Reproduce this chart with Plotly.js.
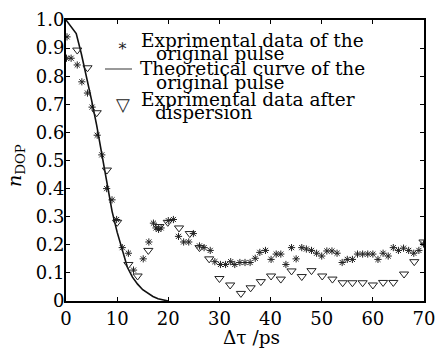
<!DOCTYPE html>
<html>
<head>
<meta charset="utf-8">
<script src="https://cdn.plot.ly/plotly-3.0.1.min.js"></script>
<style>
html,body{margin:0;padding:0;background:#fff;}
#chart{width:438px;height:349px;}
</style>
</head>
<body>
<div id="chart"></div>
<script>
// Experimental data of the original pulse (asterisks)
var origX = [0.2,0.1,1,2.2,3.1,4.2,5.1,6.1,7.0,7.95,9.0,9.9,11.0,12.2,13.2,15.1,16.2,17.1,17.6,18.1,18.6,20.0,21.0,22.0,23.0,24.0,24.9,26.1,27.0,28.2,29.1,30.2,31.2,32.2,33.0,34.0,35.0,36.0,37.0,37.9,39.0,40.1,41.1,42.0,43.0,44.1,45.0,46.1,47.0,48.0,49.0,50.0,51.0,52.0,53.0,54.0,55.0,56.0,57.0,58.0,59.0,60.0,61.0,62.0,63.0,64.0,65.0,66.0,67.0,68.0,69.0,69.9];
var origY = [0.94,0.864,0.864,0.84,0.78,0.74,0.69,0.59,0.52,0.40,0.36,0.29,0.19,0.17,0.11,0.15,0.21,0.277,0.26,0.255,0.26,0.286,0.29,0.23,0.21,0.21,0.24,0.196,0.19,0.18,0.14,0.13,0.13,0.14,0.13,0.137,0.137,0.137,0.152,0.173,0.18,0.148,0.167,0.167,0.13,0.19,0.15,0.19,0.185,0.18,0.17,0.16,0.178,0.178,0.17,0.137,0.148,0.148,0.167,0.167,0.167,0.167,0.148,0.17,0.16,0.19,0.18,0.188,0.18,0.17,0.18,0.203];

// Theoretical curve of the original pulse
var theoX = [0,1,2,3,4,5,6,7,8,9,10,11,12,13,14,15,16,17,18,19,20];
var theoY = [1.0,0.976,0.952,0.88,0.80,0.715,0.625,0.52,0.41,0.32,0.245,0.18,0.12,0.085,0.06,0.04,0.028,0.016,0.008,0.003,0.0];

// Experimental data after dispersion (triangles)
var dispX = [2.2,4.2,6.0,8.0,10.0,12.2,14.0,16.1,18.25,19.9,22.1,24.2,26.1,28.0,30.0,32.1,34.2,36.1,38.1,40.1,42.0,44.1,46.1,48.0,50.1,52.1,54.1,56.0,58.0,60.0,62.0,64.0,66.1,68.1,69.9];
var dispY = [0.893,0.83,0.67,0.466,0.28,0.13,0.089,0.18,0.265,0.28,0.26,0.24,0.19,0.15,0.08,0.057,0.027,0.047,0.069,0.089,0.078,0.107,0.087,0.108,0.089,0.078,0.065,0.065,0.065,0.057,0.066,0.066,0.096,0.14,0.21];

var xTicks = [0,10,20,30,40,50,60,70];
var yTicks = [0,0.1,0.2,0.3,0.4,0.5,0.6,0.7,0.8,0.9,1.0];
var yTickText = ['0','0.1','0.2','0.3','0.4','0.5','0.6','0.7','0.8','0.9','1.0'];

var legendLines = [
  'Exprimental data of the', 'original pulse',
  'Theoretical curve of the', 'original pulse',
  'Exprimental data after', 'dispersion'
];

var FONT = 'DejaVu Serif, Liberation Serif, serif';
var L = 66, R = 424, T = 20, B = 301, W = 438, H = 349;
function PX(px){ return (px - L) / (R - L); }
function PY(py){ return (B - py) / (B - T); }

var traces = [
  {x: origX, y: origY, type: 'scatter', mode: 'markers', name: 'orig',
   marker: {symbol: 'asterisk-open', size: 6, color: '#222', line: {width: 1, color: '#222'}}},
  {x: theoX, y: theoY, type: 'scatter', mode: 'lines', name: 'theory',
   line: {color: '#111', width: 1.6}},
  {x: dispX, y: dispY, type: 'scatter', mode: 'markers', name: 'disp',
   marker: {symbol: 'triangle-down-open', size: 8, color: '#222', line: {width: 1, color: '#222'}}}
];

var lineBaselines = [47.5, 60, 75.5, 89, 106, 119];
var lineX = [140, 155, 139, 155, 140, 154];
var ann = [];
for (var i = 0; i < legendLines.length; i++) {
  ann.push({xref: 'paper', yref: 'paper', x: PX(lineX[i]), y: PY(lineBaselines[i] + 4.5),
    xanchor: 'left', yanchor: 'bottom', showarrow: false, text: legendLines[i],
    font: {family: FONT, size: 18.5, color: '#000'}, borderpad: 0});
}
ann.push({xref: 'paper', yref: 'paper', x: PX(122), y: PY(45), xanchor: 'center', yanchor: 'middle',
  showarrow: false, text: '∗', font: {family: FONT, size: 16, color: '#222'}});
ann.push({xref: 'paper', yref: 'paper', x: PX(123), y: PY(104), xanchor: 'center', yanchor: 'middle',
  showarrow: false, text: '▽', font: {family: FONT, size: 18, color: '#222'}});
// axis titles
ann.push({xref: 'paper', yref: 'paper', x: PX(252), y: PY(337), xanchor: 'center', yanchor: 'middle',
  showarrow: false, text: 'Δτ /ps', font: {family: FONT, size: 18.5, color: '#000'}});
ann.push({xref: 'paper', yref: 'paper', x: PX(15), y: PY(166), xanchor: 'center', yanchor: 'middle',
  showarrow: false, textangle: -90, text: '<i>n</i><sub>DOP</sub>', font: {family: FONT, size: 19, color: '#000'}});

var layout = {
  width: W, height: H,
  margin: {l: L, r: W - R, t: T, b: H - B, pad: 0},
  paper_bgcolor: '#fff', plot_bgcolor: '#fff',
  showlegend: false,
  font: {family: FONT, size: 18, color: '#000'},
  xaxis: {range: [0, 70], tickvals: xTicks, ticks: 'inside', ticklen: 4, tickwidth: 1,
    tickcolor: '#000', showline: true, linecolor: '#000', linewidth: 2, mirror: 'ticks',
    showgrid: false, zeroline: false, tickfont: {family: FONT, size: 18}},
  yaxis: {range: [0, 1.0], tickvals: yTicks, ticktext: yTickText, ticks: 'inside', ticklen: 4, tickwidth: 1,
    tickcolor: '#000', showline: true, linecolor: '#000', linewidth: 2, mirror: 'ticks',
    showgrid: false, zeroline: false, ticklabelstandoff: -4, tickfont: {family: FONT, size: 18}},
  shapes: [{type: 'line', xref: 'paper', yref: 'paper', x0: PX(105), x1: PX(132), y0: PY(69), y1: PY(69),
    line: {color: '#555', width: 1.2}}],
  annotations: ann
};

Plotly.newPlot('chart', traces, layout, {displayModeBar: false, staticPlot: true});
</script>
</body>
</html>
